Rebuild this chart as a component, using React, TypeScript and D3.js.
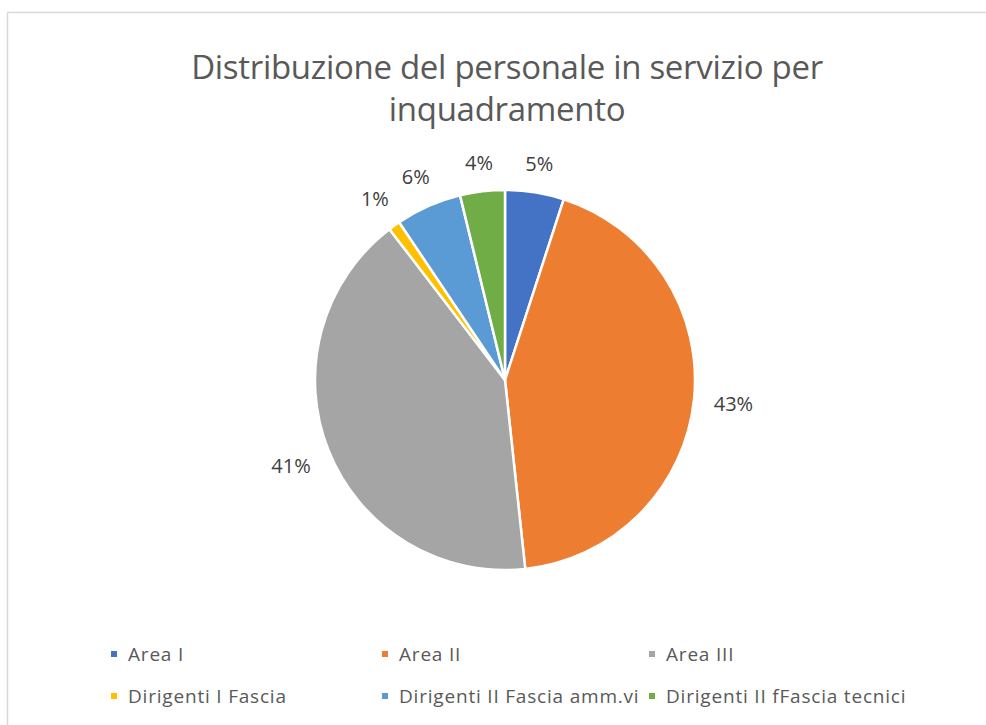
import React from "react";
import * as d3 from "d3";

const categories = [
  "Area I",
  "Area II",
  "Area III",
  "Dirigenti I Fascia",
  "Dirigenti II Fascia amm.vi",
  "Dirigenti II fFascia tecnici",
];
const values = [5.0, 43.3, 41.3, 1.0, 5.6, 3.8];
const colors = ["#4472C4", "#ED7D31", "#A5A5A5", "#FFC000", "#5B9BD5", "#70AD47"];
const titleLines = ["Distribuzione del personale in servizio per", "inquadramento"];

const W = 986;
const H = 725;
const cx = 505;
const cy = 380;
const R = 190;
const FONT = "'Open Sans', 'DejaVu Sans', sans-serif";

export default function App() {
  const total = d3.sum(values);
  const pie = d3.pie<number>().sort(null).value((d) => d);
  const arcs = pie(values);
  const arcGen = d3.arc<d3.PieArcDatum<number>>().innerRadius(0).outerRadius(R);

  const legendX = [111, 382, 649];
  const legendBase = [661, 703];

  return (
    <svg
      width={W}
      height={H}
      style={{ position: "absolute", left: 0, top: 0, background: "#fff" }}
      fontFamily={FONT}
    >
      <rect x={7.5} y={12.5} width={990} height={730} fill="#fff" stroke="#d9d9d9" strokeWidth={1.5} />
      {titleLines.map((t, i) => (
        <text
          key={i}
          x={507}
          y={79 + i * 42}
          textAnchor="middle"
          fontSize={33}
          letterSpacing={-0.3}
          fill="#595959"
        >
          {t}
        </text>
      ))}
      <g transform={`translate(${cx},${cy})`}>
        {arcs.map((a, i) => (
          <path key={i} d={arcGen(a) || ""} fill={colors[i]} stroke="#fff" strokeWidth={2.5} strokeLinejoin="round" />
        ))}
        {arcs.map((a, i) => {
          const mid = (a.startAngle + a.endAngle) / 2;
          const s = Math.sin(mid);
          const c = -Math.cos(mid);
          const label = `${Math.round((values[i] / total) * 100)}%`;
          const w = label.length * 13.3;
          const h = 16;
          const r = R + 19 + Math.abs(s) * (w / 2) + Math.abs(c) * (h / 2);
          return (
            <text
              key={i}
              x={r * s}
              y={r * c + 7}
              textAnchor="middle"
              fontSize={20}
              fill="#404040"
            >
              {label}
            </text>
          );
        })}
      </g>
      {categories.map((cat, i) => {
        const col = i % 3;
        const row = Math.floor(i / 3);
        const x = legendX[col];
        const y = legendBase[row];
        return (
          <g key={cat}>
            <rect x={x} y={y - 10} width={6} height={6} fill={colors[i]} />
            <text x={x + 17} y={y} fontSize={19} letterSpacing={0.8} fill="#595959">
              {cat}
            </text>
          </g>
        );
      })}
    </svg>
  );
}
